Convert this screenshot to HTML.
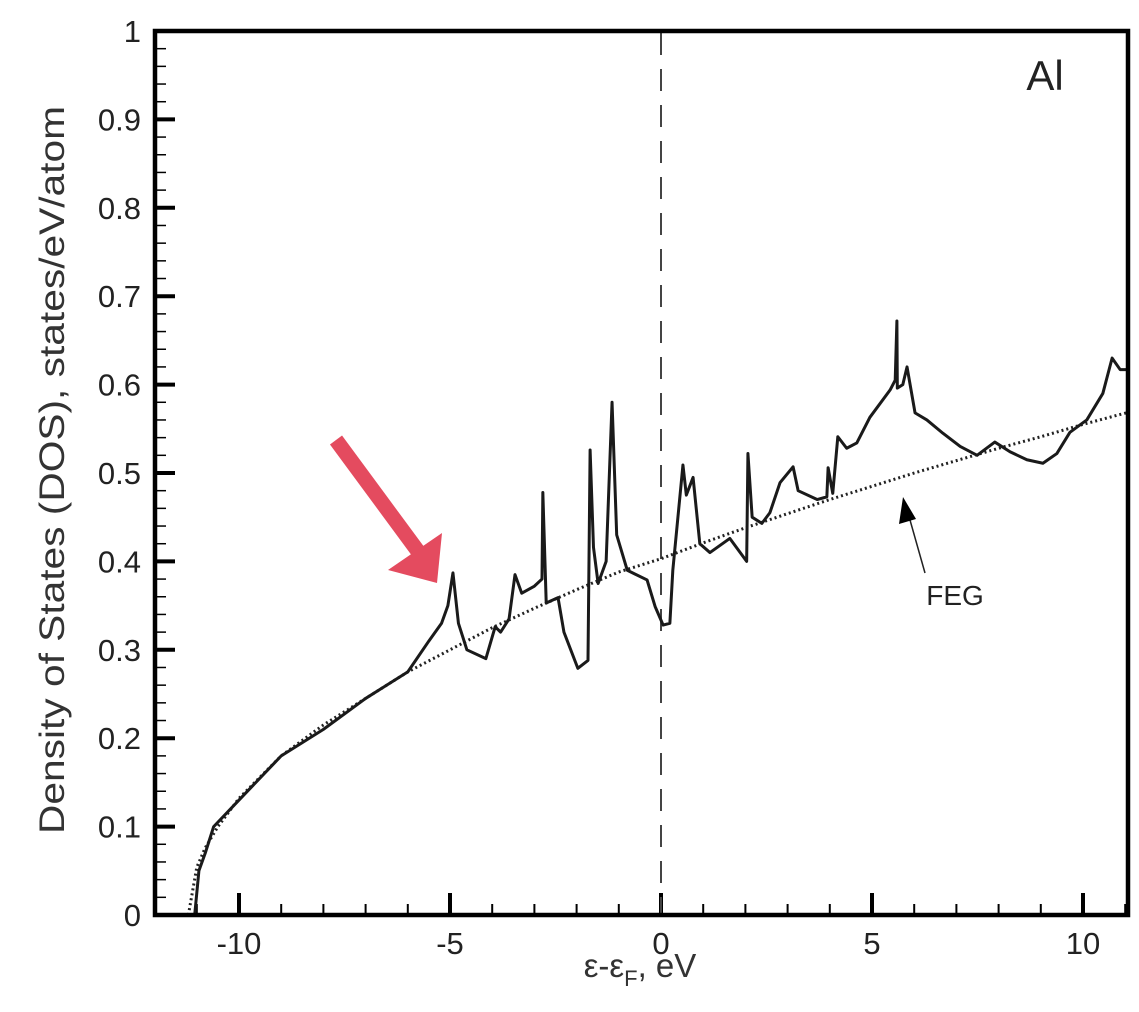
<!DOCTYPE html>
<html><head><meta charset="utf-8"><style>
html,body{margin:0;padding:0;background:#fff;}
svg{display:block;font-family:"Liberation Sans",sans-serif;}
</style></head><body>
<svg id="chart" width="1139" height="1012" viewBox="0 0 1139 1012" xmlns="http://www.w3.org/2000/svg">
<g id="ticks"></g>
<g id="series"></g>
<rect x="155" y="31" width="973" height="884" fill="none" stroke="#000" stroke-width="4.5"/>
<text x="1045" y="90" font-size="42" fill="#222" text-anchor="middle">Al</text>
<text transform="translate(64,470) rotate(-90)" font-size="35" fill="#333" text-anchor="middle" textLength="728" lengthAdjust="spacingAndGlyphs">Density of States (DOS), states/eV/atom</text>
<text x="640" y="977" font-size="33" fill="#333" text-anchor="middle">ε-ε<tspan font-size="22" dy="9">F</tspan><tspan dy="-9">, eV</tspan></text>
<g>
<line x1="925" y1="573" x2="910" y2="520" stroke="#222" stroke-width="1.5"/>
<polygon points="903,497 899,524 916,519" fill="#000"/>
<text x="955" y="605" font-size="28" fill="#222" text-anchor="middle">FEG</text>
</g>
<g>
<line x1="336" y1="440" x2="420" y2="554" stroke="#e44b5f" stroke-width="15"/>
<polygon points="388,570 442,533 437,583" fill="#e44b5f"/>
</g>
</svg>
<script>
const xTickLabels=[-10,-5,0,5,10];
const yTickLabels=[0,0.1,0.2,0.3,0.4,0.5,0.6,0.7,0.8,0.9,1];
const dosE=[-11.05,-10.95,-10.8,-10.6,-10.0,-9.0,-8.0,-7.0,-6.0,-5.5,-5.2,-5.05,-4.93,-4.8,-4.6,-4.15,-3.93,-3.8,-3.6,-3.46,-3.3,-3.0,-2.82,-2.8,-2.72,-2.44,-2.3,-1.97,-1.73,-1.68,-1.6,-1.49,-1.3,-1.16,-1.05,-0.8,-0.33,-0.14,0.05,0.21,0.28,0.52,0.6,0.76,0.92,1.16,1.63,2.03,2.06,2.16,2.39,2.58,2.82,3.13,3.25,3.7,3.93,3.96,4.07,4.19,4.4,4.64,4.95,5.43,5.55,5.59,5.6,5.73,5.83,6.02,6.3,6.68,7.09,7.49,7.91,8.27,8.67,9.05,9.38,9.69,10.09,10.47,10.69,10.88,11.1];
const dosV=[0,0.05,0.07,0.1,0.13,0.18,0.21,0.245,0.275,0.31,0.33,0.35,0.387,0.33,0.3,0.29,0.326,0.32,0.335,0.385,0.364,0.372,0.38,0.478,0.353,0.359,0.32,0.279,0.288,0.526,0.416,0.375,0.4,0.58,0.43,0.39,0.379,0.349,0.328,0.33,0.39,0.509,0.475,0.495,0.42,0.41,0.426,0.4,0.522,0.45,0.443,0.455,0.489,0.507,0.48,0.47,0.473,0.506,0.477,0.541,0.528,0.534,0.563,0.594,0.605,0.672,0.596,0.6,0.62,0.568,0.56,0.545,0.53,0.52,0.535,0.524,0.515,0.511,0.522,0.546,0.56,0.59,0.63,0.617,0.617];
const fegE=[-11.2,-11.0,-10.8,-10.5,-10,-9,-8,-7,-6,-5,-4,-3,-2,-1,0,1,2,3,4,5,6,7,8,9,10,11.1];
const fegV=[0,0.054,0.076,0.1,0.132,0.18,0.215,0.245,0.275,0.3,0.325,0.347,0.368,0.388,0.403,0.421,0.438,0.454,0.47,0.485,0.5,0.514,0.528,0.541,0.555,0.569];
const NS="http://www.w3.org/2000/svg";
const X=e=>661+e*42.2, Y=v=>915-v*884;
const ticks=document.getElementById('ticks'), series=document.getElementById('series');
function mk(t,a,p){const el=document.createElementNS(NS,t);for(const k in a)el.setAttribute(k,a[k]);p.appendChild(el);return el;}
for(let e=-11;e<=11;e++){
  const major=e%5===0;
  const t=mk('line',{x1:X(e),x2:X(e),y1:915,y2:915-(major?22:11),stroke:'#000','stroke-width':major?4:2},ticks);
  
  
}
xTickLabels.forEach(v=>{
  const t=mk('text',{x:X(v),y:954,'font-size':31,fill:'#222','text-anchor':'middle'},ticks);
  t.textContent=v;
  
  
});
for(let i=0;i<=50;i++){
  const v=i*0.02, major=i%5===0;
  const t=mk('line',{x1:155,x2:155+(major?20:11),y1:Y(v),y2:Y(v),stroke:'#000','stroke-width':major?4:1.5},ticks);
  
  
}
yTickLabels.forEach(v=>{
  const t=mk('text',{x:141,y:Y(v)+11,'font-size':31,fill:'#222','text-anchor':'end'},ticks);
  t.textContent=v;
  
  
});
const zl=mk('line',{x1:X(0),x2:X(0),y1:33,y2:913,stroke:'#444','stroke-width':2,'stroke-dasharray':'22,14'},series);


const feg=mk('polyline',{points:fegE.map((e,i)=>X(e)+','+Y(fegV[i])).join(' '),fill:'none',stroke:'#222','stroke-width':3,'stroke-dasharray':'2,3'},series);


const dos=mk('polyline',{points:dosE.map((e,i)=>X(e)+','+Y(dosV[i])).join(' '),fill:'none',stroke:'#1a1a1a','stroke-width':3,'stroke-linejoin':'round'},series);


</script>
</body></html>
